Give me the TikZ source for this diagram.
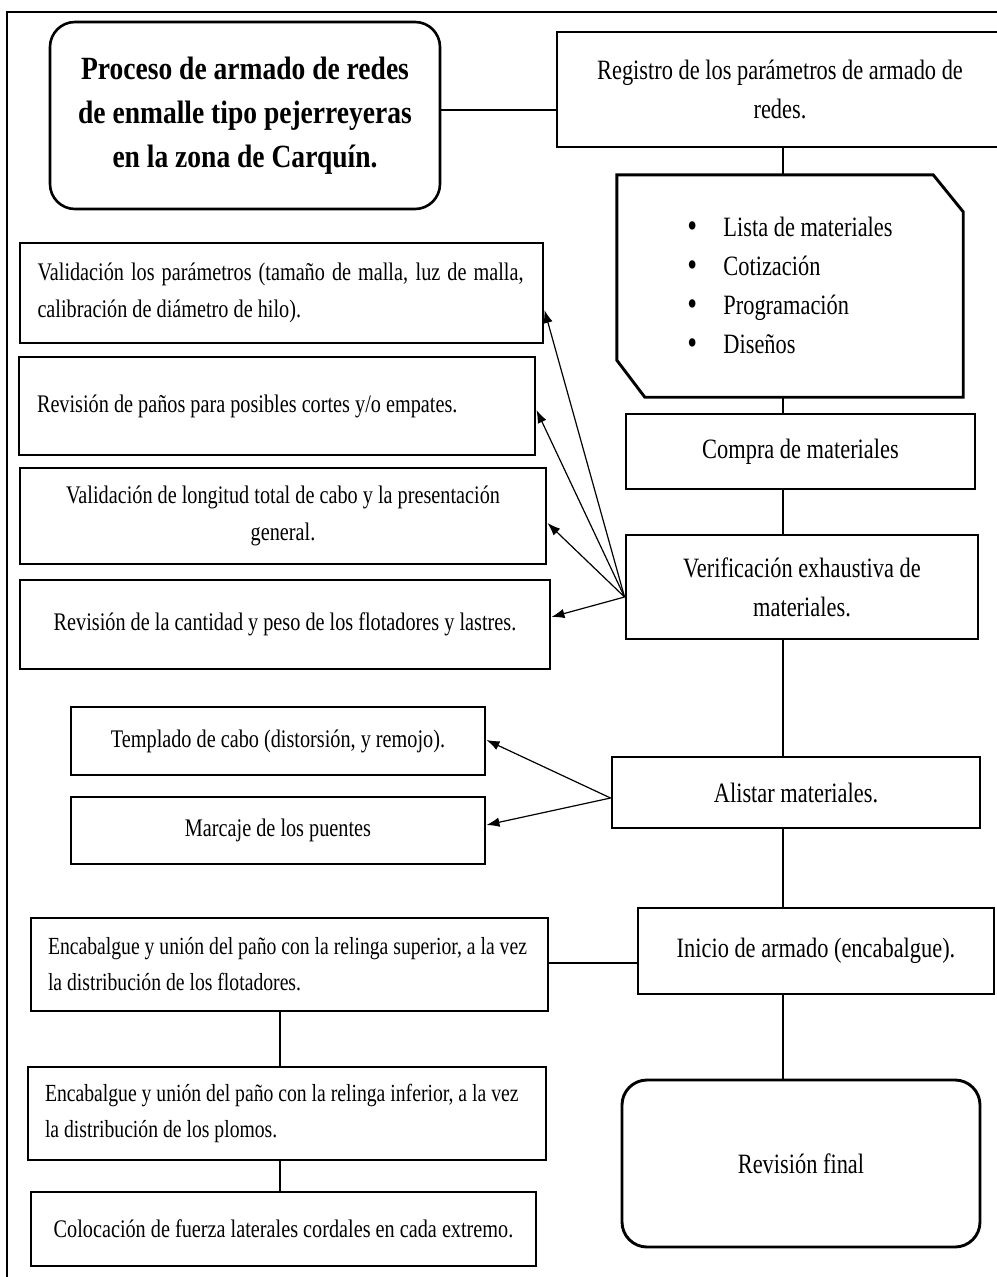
\documentclass[tikz,border=0pt]{standalone}
\usepackage{fontspec}
\setmainfont{Liberation Serif}[FakeStretch=0.8]
\newfontfamily\ttlfont{Liberation Serif}[FakeStretch=0.85]
\usetikzlibrary{arrows.meta}
\newcommand{\bul}{\makebox[36pt][l]{\raisebox{-1.5pt}{\fontsize{35}{39}\selectfont\textbullet}}}
\begin{document}
\begin{tikzpicture}[x=1pt,y=-1pt,
  bx/.style={draw, line width=2.9pt, inner sep=0pt, align=center},
  rt/.style={font=\fontsize{28}{39}\selectfont},
  lt/.style={font=\fontsize{25.3}{36.5}\selectfont},
  lts/.style={font=\fontsize{24.6}{36}\selectfont},
  ttl/.style={font=\ttlfont\bfseries\fontsize{32.4}{44}\selectfont},
  conn/.style={line width=2pt},
  arr/.style={line width=1.2pt, -{Latex[length=13pt,width=9.5pt]}},
  frame/.style={line width=1.3pt}]
\useasboundingbox (0,0) rectangle (996,1277);
% outer frame
\draw[frame] (7,1290) -- (7,12) -- (1010,12);

% right column
\node[bx, ttl, rounded corners=25pt, line width=2.6pt, minimum width=390pt, minimum height=187pt] (title) at (245,115.5)
  {Proceso de armado de redes\\de enmalle tipo pejerreyeras\\en la zona de Carquín.};
\node[bx, rt, minimum width=446pt, minimum height=115pt] (reg) at (780,89.5)
  {Registro de los parámetros de armado de\\redes.};
\node[rt, inner sep=0pt, align=flush left, minimum width=346pt, minimum height=222pt] (card) at (790,286)
  {\bul Lista de materiales\\
   \bul Cotización\\
   \bul Programación\\
   \bul Diseños};
\draw[line width=2.9pt] (card.north west) -- ([xshift=-30pt]card.north east) -- ([yshift=-37pt]card.north east)
  -- (card.south east) -- ([xshift=28pt]card.south west) -- ([yshift=37pt]card.south west) -- cycle;
\node[bx, rt, minimum width=349pt, minimum height=75pt] (compra) at (800.5,451.5) {Compra de materiales};
\node[bx, rt, minimum width=352pt, minimum height=104pt] (verif) at (802,587) {Verificación exhaustiva de\\materiales.};
\node[bx, rt, minimum width=368pt, minimum height=71pt] (alistar) at (796,792.5) {Alistar materiales.};
\node[bx, rt, minimum width=356pt, minimum height=86pt] (inicio) at (816,951) {Inicio de armado (encabalgue).};
\node[bx, rt, rounded corners=25pt, minimum width=358pt, minimum height=167pt] (final) at (801,1163.5) {Revisión final};

% left column
\node[bx, lt, align=flush left, text width=488pt, minimum width=523pt, minimum height=100pt] (val1) at (281.5,293)
  {\makebox[486pt][s]{Validación los parámetros (tamaño de malla, luz de malla,}\\\mbox{calibración de diámetro de hilo).}};
\node[bx, lt, align=flush left, text width=480pt, minimum width=516pt, minimum height=98pt] (rev1) at (277,406)
  {\mbox{Revisión de paños para posibles cortes y/o empates.}};
\node[bx, lt, minimum width=526pt, minimum height=96pt] (val2) at (283,516)
  {Validación de longitud total de cabo y la presentación\\general.};
\node[bx, lt, minimum width=530pt, minimum height=89pt] (rev2) at (285,624.5)
  {Revisión de la cantidad y peso de los flotadores y lastres.};
\node[bx, lt, minimum width=414pt, minimum height=68pt] (templ) at (278,741)
  {Templado de cabo (distorsión, y remojo).};
\node[bx, lt, minimum width=414pt, minimum height=67pt] (marc) at (278,830.5)
  {Marcaje de los puentes};
\node[bx, lts, align=flush left, text width=483pt, minimum width=517pt, minimum height=93pt] (encs) at (289.5,964.5)
  {\mbox{Encabalgue y unión del paño con la relinga superior, a la vez}\\\mbox{la distribución de los flotadores.}};
\node[bx, lts, align=flush left, text width=484pt, minimum width=518pt, minimum height=93pt] (enci) at (287,1113.5)
  {\mbox{Encabalgue y unión del paño con la relinga inferior, a la vez}\\\mbox{la distribución de los plomos.}};
\node[bx, lt, minimum width=505pt, minimum height=74pt] (coloc) at (283.5,1229)
  {Colocación de fuerza laterales cordales en cada extremo.};

% connectors
\coordinate (spine) at (783,0);
\coordinate (lspine) at (280,0);
\coordinate (t1) at ([yshift=5.5pt]title.east);
\draw[conn] (t1) -- (t1 -| reg.west);
\draw[conn] (reg.south -| spine) -- (card.north -| spine);
\draw[conn] (card.south -| spine) -- (compra.north -| spine);
\draw[conn] (compra.south -| spine) -- (verif.north -| spine);
\draw[conn] (verif.south -| spine) -- (alistar.north -| spine);
\draw[conn] (alistar.south -| spine) -- (inicio.north -| spine);
\draw[conn] (inicio.south -| spine) -- (final.north -| spine);
\coordinate (i1) at ([yshift=-12pt]inicio.west);
\draw[conn] (i1) -- (i1 -| encs.east);
\draw[conn] (encs.south -| lspine) -- (enci.north -| lspine);
\draw[conn] (enci.south -| lspine) -- (coloc.north -| lspine);

% arrows
\coordinate (vo) at ([yshift=-10pt]verif.west);
\draw[arr] (vo) -- ([yshift=-17pt]val1.east);
\draw[arr] (vo) -- ([yshift=-4pt]rev1.east);
\draw[arr] (vo) -- ([yshift=-7pt]val2.east);
\draw[arr] (vo) -- ([yshift=7.5pt]rev2.east);
\coordinate (ao) at ([yshift=-5.5pt]alistar.west);
\draw[arr] (ao) -- ([yshift=1pt]templ.east);
\draw[arr] (ao) -- ([yshift=5.5pt]marc.east);
\end{tikzpicture}
\end{document}
